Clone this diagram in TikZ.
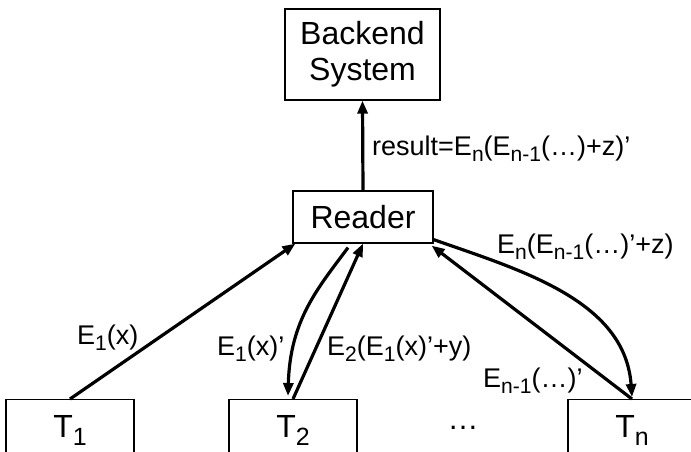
\documentclass[tikz,border=0pt]{standalone}
\usepackage{fontspec}
\setmainfont{Liberation Sans}
\usetikzlibrary{arrows.meta,calc}
\newcommand{\sbs}[1]{\raisebox{-0.24em}{\scalebox{0.78}{#1}}}
\begin{document}
\begin{tikzpicture}[x=1pt,y=-1pt,
 box/.style={draw,line width=1.2pt,inner sep=0pt,font=\fontsize{32}{36}\selectfont},
 lbl/.style={inner sep=0pt,font=\fontsize{27}{30}\selectfont},
 arr/.style={line width=3.2pt,-{Triangle[length=13pt,width=10pt]}}]
\clip (0,0) rectangle (691,451);
\useasboundingbox (0,0) rectangle (691,451);
\node[box,minimum width=155pt,minimum height=91pt,align=center] (backend) at (362.5,54.5) {Backend\\System};
\node[box,minimum width=140pt,minimum height=52pt] (reader) at (363,217) {Reader};
\node[box,minimum width=128pt,minimum height=62pt,anchor=north] (t1) at (70,399) {T\sbs{1}};
\node[box,minimum width=128pt,minimum height=62pt,anchor=north] (t2) at (293,399) {T\sbs{2}};
\node[box,minimum width=128pt,minimum height=62pt,anchor=north] (tn) at (632,399) {T\sbs{n}};
\node[lbl,anchor=base,font=\fontsize{31}{36}\selectfont] (dots) at (463,429) {…};
\draw[arr] (reader.north) -- (backend.south);
\draw[arr] (t1.north) -- ($(reader.south west)+(3,0)$);
\draw[arr] ($(reader.south)+(-15,4)$) .. controls (318,288) and (290,320) .. ($(t2.north)+(-5,-3)$);
\draw[arr] (t2.north) -- (reader.south);
\draw[arr] (tn.north) -- ($(reader.south east)+(-2,2)$);
\draw[arr] ($(reader.south east)+(0,-4)$) .. controls (520,270) and (625,300) .. ($(tn.north)+(0,-2)$);
\node[lbl,anchor=base west] (lres) at (372,155) {result=E\sbs{n}(E\sbs{n-1}(…)+z)’};
\node[lbl,anchor=base west] (l1) at (77,344) {E\sbs{1}(x)};
\node[lbl,anchor=base west] (l2) at (217,355) {E\sbs{1}(x)’};
\node[lbl,anchor=base west] (l3) at (327,355) {E\sbs{2}(E\sbs{1}(x)’+y)};
\node[lbl,anchor=base west] (l4) at (497,253) {E\sbs{n}(E\sbs{n-1}(…)’+z)};
\node[lbl,anchor=base west] (l5) at (483,387) {E\sbs{n-1}(…)’};
\end{tikzpicture}
\end{document}
